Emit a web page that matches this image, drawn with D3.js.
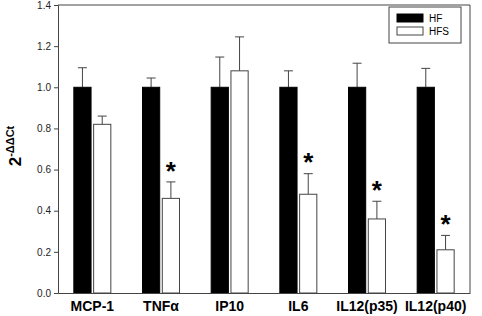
<!DOCTYPE html>
<html>
<head>
<meta charset="utf-8">
<script src="https://cdn.jsdelivr.net/npm/d3@7"></script>
<style>
  body { margin: 0; background: #fff; }
  svg { display: block; font-family: "Liberation Sans", Arial, sans-serif; }
</style>
</head>
<body>
<div id="chart"></div>
<script>
// --- Data ---
const categories = ["MCP-1", "TNF\u03b1", "IP10", "IL6", "IL12(p35)", "IL12(p40)"];
const seriesNames = ["HF", "HFS"];
const hfValues = [1.0, 1.0, 1.0, 1.0, 1.0, 1.0];
const hfErrors = [0.095, 0.045, 0.147, 0.08, 0.117, 0.092];
const hfsValues = [0.82, 0.46, 1.08, 0.48, 0.36, 0.21];
const hfsErrors = [0.04, 0.08, 0.165, 0.10, 0.086, 0.07];
const significant = [false, true, false, true, true, true];
const yTicks = [0, 0.2, 0.4, 0.6, 0.8, 1.0, 1.2, 1.4];

// --- Setup ---
const width = 482, height = 316;
const margin = { top: 5, right: 12, bottom: 23, left: 58 };
const innerW = width - margin.left - margin.right;
const innerH = height - margin.top - margin.bottom;
const axisColor = "#444";

const svg = d3.select("#chart").append("svg")
  .attr("width", width)
  .attr("height", height);

const g = svg.append("g")
  .attr("transform", `translate(${margin.left},${margin.top})`);

const x = d3.scaleBand().domain(categories).range([0, innerW]).padding(0);
const x1 = d3.scaleBand().domain(seriesNames).range([-18.5, 18.5]).paddingInner(0.13);
const y = d3.scaleLinear().domain([0, 1.4]).range([innerH, 0]);

// frame: top and right
g.append("line").attr("x1", 0).attr("x2", innerW).attr("y1", 0).attr("y2", 0)
  .attr("stroke", axisColor).attr("stroke-width", 1);
g.append("line").attr("x1", innerW).attr("x2", innerW).attr("y1", 0).attr("y2", innerH)
  .attr("stroke", axisColor).attr("stroke-width", 1);

// --- Bars ---
const rows = categories.map((c, i) => ({
  cat: c,
  bars: [
    { key: "HF", v: hfValues[i], e: hfErrors[i] },
    { key: "HFS", v: hfsValues[i], e: hfsErrors[i] }
  ],
  sig: significant[i]
}));

const grp = g.selectAll(".grp").data(rows).enter().append("g")
  .attr("transform", d => `translate(${x(d.cat) + x.bandwidth() / 2},0)`);

const bar = grp.selectAll(".bar").data(d => d.bars).enter();

// error bars (drawn first, bar covers base)
bar.append("line")
  .attr("x1", d => x1(d.key) + x1.bandwidth() / 2)
  .attr("x2", d => x1(d.key) + x1.bandwidth() / 2)
  .attr("y1", d => y(d.v))
  .attr("y2", d => y(d.v + d.e))
  .attr("stroke", axisColor);
bar.append("line")
  .attr("x1", d => x1(d.key) + x1.bandwidth() / 2 - 4.5)
  .attr("x2", d => x1(d.key) + x1.bandwidth() / 2 + 4.5)
  .attr("y1", d => y(d.v + d.e))
  .attr("y2", d => y(d.v + d.e))
  .attr("stroke", axisColor);

bar.append("rect")
  .attr("x", d => x1(d.key))
  .attr("width", x1.bandwidth())
  .attr("y", d => y(d.v))
  .attr("height", d => innerH - y(d.v))
  .attr("fill", d => d.key === "HF" ? "#000" : "#fff")
  .attr("stroke", d => d.key === "HF" ? "#000" : axisColor)
  .attr("stroke-width", 1);

// significance stars
grp.filter(d => d.sig).append("text")
  .attr("x", x1("HFS") + x1.bandwidth() / 2)
  .attr("y", d => y(d.bars[1].v + d.bars[1].e) - 4)
  .attr("text-anchor", "middle")
  .attr("font-size", "26px")
  .attr("font-weight", "bold")
  .attr("dy", "0.72em")
  .attr("transform", "translate(0,-17)")
  .text("*");

// --- Axes ---
const yAxis = g.append("g")
  .call(d3.axisLeft(y).tickValues(yTicks).tickFormat(d3.format(".1f")).tickSize(4).tickPadding(3));
yAxis.select(".domain").attr("stroke", axisColor);
yAxis.selectAll(".tick line").attr("stroke", axisColor);
yAxis.selectAll("text").attr("font-size", "10px").attr("fill", "#222")
  .attr("font-family", "'Liberation Sans', Arial, sans-serif");

const xAxis = g.append("g")
  .attr("transform", `translate(0,${innerH})`)
  .call(d3.axisBottom(x).tickSize(0).tickPadding(8));
xAxis.select(".domain").attr("stroke", axisColor);
xAxis.selectAll("text").attr("font-size", "14px").attr("font-weight", "bold")
  .attr("fill", "#000").attr("font-family", "'Liberation Sans', Arial, sans-serif");

// y label: 2^-ΔΔCt
const yl = svg.append("text")
  .attr("transform", "translate(21,146) rotate(-90)")
  .attr("text-anchor", "middle")
  .attr("font-weight", "bold")
  .attr("fill", "#000");
yl.append("tspan").attr("font-size", "17px").text("2");
yl.append("tspan").attr("font-size", "11px").attr("dy", "-7").text("-\u0394\u0394Ct");

// --- Legend ---
const lg = svg.append("g").attr("transform", "translate(389,7)");
lg.append("rect").attr("width", 72).attr("height", 36)
  .attr("fill", "#fff").attr("stroke", axisColor);
seriesNames.forEach((s, i) => {
  lg.append("rect")
    .attr("x", 8).attr("y", 11 + i * 13 - 4)
    .attr("width", 26).attr("height", 8)
    .attr("fill", s === "HF" ? "#000" : "#fff")
    .attr("stroke", s === "HF" ? "#000" : axisColor);
  lg.append("text")
    .attr("x", 40).attr("y", 11 + i * 13)
    .attr("dy", "0.35em")
    .attr("font-size", "10px")
    .attr("fill", "#000")
    .text(s);
});
</script>
</body>
</html>
